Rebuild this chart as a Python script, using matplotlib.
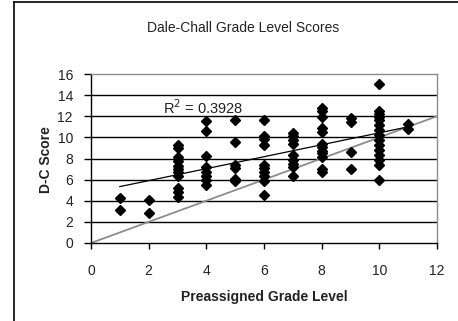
import numpy as np
import matplotlib
matplotlib.use('Agg')
import matplotlib.pyplot as plt
from matplotlib.lines import Line2D

plt.rcParams['font.family'] = ['Liberation Sans', 'DejaVu Sans']

# Preassigned grade level and the Dale-Chall scores
grades = [1, 2, 3, 4, 5, 6, 7, 8, 9, 10, 11]
scores = [
    [4.3, 3.1],
    [4.1, 2.8],
    [9.3, 9.0, 8.1, 7.8, 7.3, 7.0, 6.7, 6.3, 5.2, 4.8, 4.4],
    [11.55, 10.6, 8.2, 7.15, 6.75, 6.3, 5.95, 5.5],
    [11.65, 9.6, 7.4, 7.1, 6.05, 5.9],
    [11.6, 10.1, 9.8, 9.3, 7.4, 7.1, 6.7, 6.3, 5.9, 4.5],
    [10.4, 10.1, 9.75, 9.4, 8.3, 7.9, 7.5, 7.15, 6.3],
    [12.75, 12.45, 11.95, 10.85, 10.55, 9.35, 9.05, 8.75, 8.5, 8.15, 7.05, 6.75],
    [11.8, 11.5, 8.65, 7.05],
    [15.1, 12.5, 12.2, 11.9, 11.6, 11.2, 10.7, 10.2, 9.75, 9.3, 8.8, 8.3, 7.9, 7.4, 5.95],
    [11.3, 10.8],
]
r2_text = 'R$^2$ = 0.3928'

xs = np.concatenate([[g] * len(s) for g, s in zip(grades, scores)]).astype(float)
ys = np.concatenate(scores)

W, H = 458, 321
fig = plt.figure(figsize=(W / 100, H / 100), dpi=100)
ax = fig.add_axes([91 / W, 1 - 243 / H, (437 - 91) / W, (243 - 74) / H])

ax.set_xlim(0, 12)
ax.set_ylim(0, 16)
ax.set_xticks(range(0, 13, 2))
ax.set_yticks(range(0, 17, 2))

# horizontal gridlines
for yv in range(2, 16, 2):
    ax.axhline(yv, color='black', lw=1.0, zorder=1)

# y = x reference line
ax.plot([0, 12], [0, 12], color='#8c8c8c', lw=1.3, zorder=2)

# linear trendline
slope, icpt = np.polyfit(xs, ys, 1)
tx = np.array([xs.min(), xs.max()])
ax.plot(tx, slope * tx + icpt, color='black', lw=0.9, zorder=3)

ax.plot(xs, ys, linestyle='none', marker='D', markersize=4.6,
        color='black', zorder=4)

ax.text(2.5, 11.95, r2_text, fontsize=10.5, va='bottom', ha='left',
        color='#222222', zorder=5)

for side in ['top', 'right']:
    ax.spines[side].set_color('#8c8c8c')
    ax.spines[side].set_linewidth(1.0)
for side in ['left', 'bottom']:
    ax.spines[side].set_color('black')
    ax.spines[side].set_linewidth(1.0)

ax.tick_params(axis='x', direction='out', length=4, width=1, pad=11,
               labelsize=10, colors='black', labelcolor='#222222')
ax.tick_params(axis='y', direction='out', length=5, width=1, pad=8,
               labelsize=10, colors='black', labelcolor='#222222')

fig.text(243 / W, 1 - 27.5 / H, 'Dale-Chall Grade Level Scores', fontsize=10,
         ha='center', va='center', color='#222222')
fig.text(264 / W, 1 - 297 / H, 'Preassigned Grade Level', fontsize=10,
         fontweight='bold', ha='center', va='center', color='#222222')
fig.text(46.5 / W, 1 - 160 / H, 'D-C Score', fontsize=10, fontweight='bold',
         rotation=90, ha='center', va='center', color='#222222')

# chart area frame (left and top edges visible)
fig.add_artist(Line2D([13.5 / W, 13.5 / W], [0, 1 - 1.5 / H],
                      transform=fig.transFigure, color='black', lw=1.2))
fig.add_artist(Line2D([13.5 / W, 1], [1 - 1.5 / H, 1 - 1.5 / H],
                      transform=fig.transFigure, color='black', lw=1.2))

fig.savefig('out.png', dpi=100)
